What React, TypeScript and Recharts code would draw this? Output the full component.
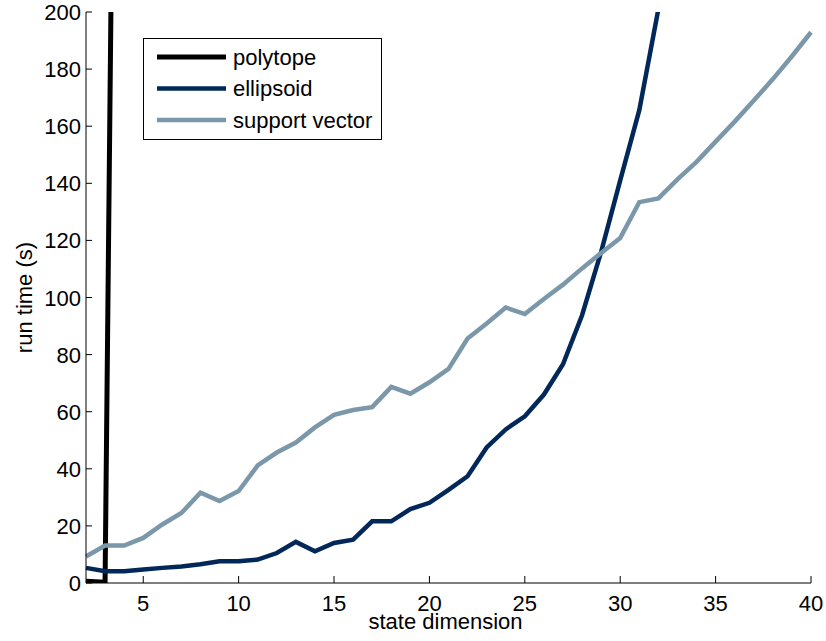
import { Label, Line, LineChart, XAxis, YAxis } from "recharts";

const dims = [
  2, 3, 4, 5, 6, 7, 8, 9, 10, 11, 12, 13, 14, 15, 16, 17, 18, 19, 20, 21,
  22, 23, 24, 25, 26, 27, 28, 29, 30, 31, 32, 33, 34, 35, 36, 37, 38, 39, 40
];

// polytope blows up right after dimension 3
const polytope = [0.6, 0.3, 655];

const ellipsoid = [
  5.3, 4.1, 4.1, 4.7, 5.3, 5.8, 6.6, 7.6, 7.6, 8.2, 10.5, 14.4, 11.1, 14,
  15.2, 21.6, 21.6, 25.9, 28.1, 32.6, 37.4, 47.5, 53.8, 58.4, 66, 76.6, 93.8,
  116, 141, 165.6, 201
];

const supportVector = [
  9.3, 13.1, 13.1, 15.8, 20.5, 24.5, 31.6, 28.7, 32.2, 41.2, 45.7, 49.2,
  54.5, 58.9, 60.6, 61.6, 68.7, 66.3, 70.3, 75, 85.6, 90.9, 96.5, 94.2, 99.5,
  104.5, 110.2, 115.6, 120.8, 133.4, 134.7, 141.4, 147.5, 154.6, 161.6, 169,
  176.5, 184.5, 192.9
];

const xTicks = [5, 10, 15, 20, 25, 30, 35, 40];
const yTicks = [0, 20, 40, 60, 80, 100, 120, 140, 160, 180, 200];

const series = [
  { key: "polytope", name: "polytope", color: "#000000", width: 5 },
  { key: "ellipsoid", name: "ellipsoid", color: "#02285a", width: 4.5 },
  { key: "support", name: "support vector", color: "#7b97aa", width: 4.5 }
];

const data = dims.map((d, i) => ({
  dim: d,
  polytope: i < polytope.length ? polytope[i] : null,
  ellipsoid: i < ellipsoid.length ? ellipsoid[i] : null,
  support: supportVector[i]
}));

const FONT = "'Liberation Sans', Arial, Helvetica, sans-serif";
const FS = 22;

function XTick(props: any) {
  const { x, y, payload } = props;
  return (
    <g>
      <line x1={x} y1={y} x2={x} y2={y - 7} stroke="#000" strokeWidth={1} />
      <text x={x} y={y + 28} textAnchor="middle" fontSize={FS} fontFamily={FONT} fill="#000">
        {payload.value}
      </text>
    </g>
  );
}

function YTick(props: any) {
  const { x, y, payload } = props;
  return (
    <g>
      <line x1={x} y1={y} x2={x + 6} y2={y} stroke="#000" strokeWidth={1} />
      <text x={x - 5} y={y + 8} textAnchor="end" fontSize={FS} fontFamily={FONT} fill="#000">
        {payload.value}
      </text>
    </g>
  );
}

function XTitle(props: any) {
  const { viewBox } = props;
  const cx = viewBox.x + viewBox.width / 2 - 3;
  return (
    <text x={cx} y={viewBox.y + 46} textAnchor="middle" fontSize={FS} fontFamily={FONT} fill="#000">
      state dimension
    </text>
  );
}

function YTitle(props: any) {
  const { viewBox } = props;
  const cy = viewBox.y + viewBox.height / 2;
  const bx = 32;
  return (
    <text
      x={bx}
      y={cy}
      transform={`rotate(-90, ${bx}, ${cy})`}
      textAnchor="middle"
      fontSize={FS}
      fontFamily={FONT}
      fill="#000"
    >
      run time (s)
    </text>
  );
}

// legend drawn as an overlay so the chart keeps its full plot height
function LegendBox() {
  return (
    <svg
      width={240}
      height={103}
      style={{ position: "absolute", left: 143, top: 38 }}
    >
      <rect x={0.5} y={0.5} width={238} height={101} fill="#fff" stroke="#000" strokeWidth={1} />
      {series.map((s, i) => (
        <g key={s.key}>
          <line
            x1={14}
            x2={83}
            y1={19 + i * 31.5}
            y2={19 + i * 31.5}
            stroke={s.color}
            strokeWidth={s.width}
          />
          <text x={90} y={26.5 + i * 31.5} fontSize={FS} fontFamily={FONT} fill="#000">
            {s.name}
          </text>
        </g>
      ))}
    </svg>
  );
}

export default function App() {
  return (
    <div style={{ position: "absolute", left: 0, top: 0, width: 826, height: 641, background: "#fff" }}>
      <LineChart
        width={826}
        height={641}
        data={data}
        margin={{ top: 12, right: 15, left: 0, bottom: 0 }}
      >
        <XAxis
          dataKey="dim"
          type="number"
          domain={[2, 40]}
          ticks={xTicks}
          interval={0}
          height={58}
          tickSize={0}
          tickMargin={0}
          tickLine={false}
          axisLine={{ stroke: "#000", strokeWidth: 1 }}
          tick={<XTick />}
        >
          <Label content={<XTitle />} />
        </XAxis>
        <YAxis
          type="number"
          domain={[0, 200]}
          ticks={yTicks}
          interval={0}
          allowDataOverflow
          width={86}
          tickSize={0}
          tickMargin={0}
          tickLine={false}
          axisLine={{ stroke: "#000", strokeWidth: 1 }}
          tick={<YTick />}
        >
          <Label content={<YTitle />} />
        </YAxis>
        {series.map((s) => (
          <Line
            key={s.key}
            dataKey={s.key}
            name={s.name}
            type="linear"
            stroke={s.color}
            strokeWidth={s.width}
            dot={false}
            activeDot={false}
            connectNulls={false}
            isAnimationActive={false}
          />
        ))}
      </LineChart>
      <LegendBox />
    </div>
  );
}
